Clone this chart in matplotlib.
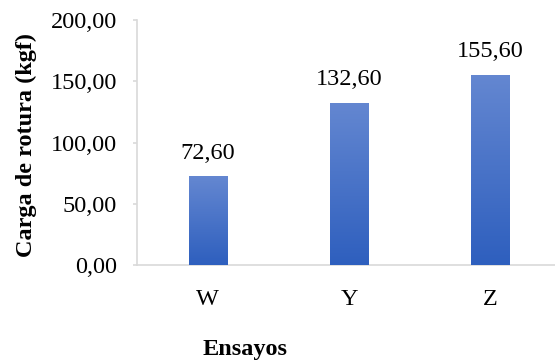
import numpy as np
import matplotlib.pyplot as plt
from matplotlib.colors import LinearSegmentedColormap

ensayos = ["W", "Y", "Z"]
carga = [72.60, 132.60, 155.60]
yticks = [0, 50, 100, 150, 200]

plt.rcParams["font.family"] = ["Liberation Serif", "DejaVu Serif"]

fig = plt.figure(figsize=(5.55, 3.62), dpi=100)
ax = fig.add_axes([137 / 555, 97 / 362, 424 / 555, 244.8 / 362])

x = np.arange(len(ensayos))
bars = ax.bar(x, carga, width=0.27, color="#4a72c8", zorder=2)

# vertical gradient fill, clipped to each bar
grad = LinearSegmentedColormap.from_list("bar", ["#2e5fbe", "#6487d1"])
for b in bars:
    x0, y0 = b.get_x(), b.get_y()
    w, h = b.get_width(), b.get_height()
    im = ax.imshow(np.linspace(0, 1, 256).reshape(-1, 1), cmap=grad,
                   origin="lower", aspect="auto",
                   extent=[x0, x0 + w, y0, y0 + h], zorder=3)
    im.set_clip_path(b)

for xi, v in zip(x, carga):
    ax.annotate(f"{v:.2f}".replace(".", ","), (xi, v), xytext=(0, 9),
                textcoords="offset points", ha="center", va="bottom",
                fontsize=17.5)

ax.set_xlim(-0.5, 2.5)
ax.set_ylim(0, 200)
ax.set_xticks(x)
ax.set_xticklabels(ensayos)
ax.set_yticks(yticks)
ax.set_yticklabels([f"{t:.2f}".replace(".", ",") for t in yticks])

for s in ["top", "right"]:
    ax.spines[s].set_visible(False)
for s in ["left", "bottom"]:
    ax.spines[s].set_color("#d9d9d9")
    ax.spines[s].set_linewidth(1.2)

ax.tick_params(axis="y", length=3, width=1.2, color="#d9d9d9", pad=11.5,
               labelsize=17.5)
ax.tick_params(axis="x", length=0, pad=17, labelsize=17.5)

fig.text(26 / 555, 217 / 362, "Carga de rotura (kgf)", rotation=90,
         ha="center", va="center", fontsize=17.5, fontweight="bold")
fig.text(245 / 555, 13 / 362, "Ensayos", ha="center", va="center",
         fontsize=17.5, fontweight="bold")

fig.savefig("out.png", dpi=100)
